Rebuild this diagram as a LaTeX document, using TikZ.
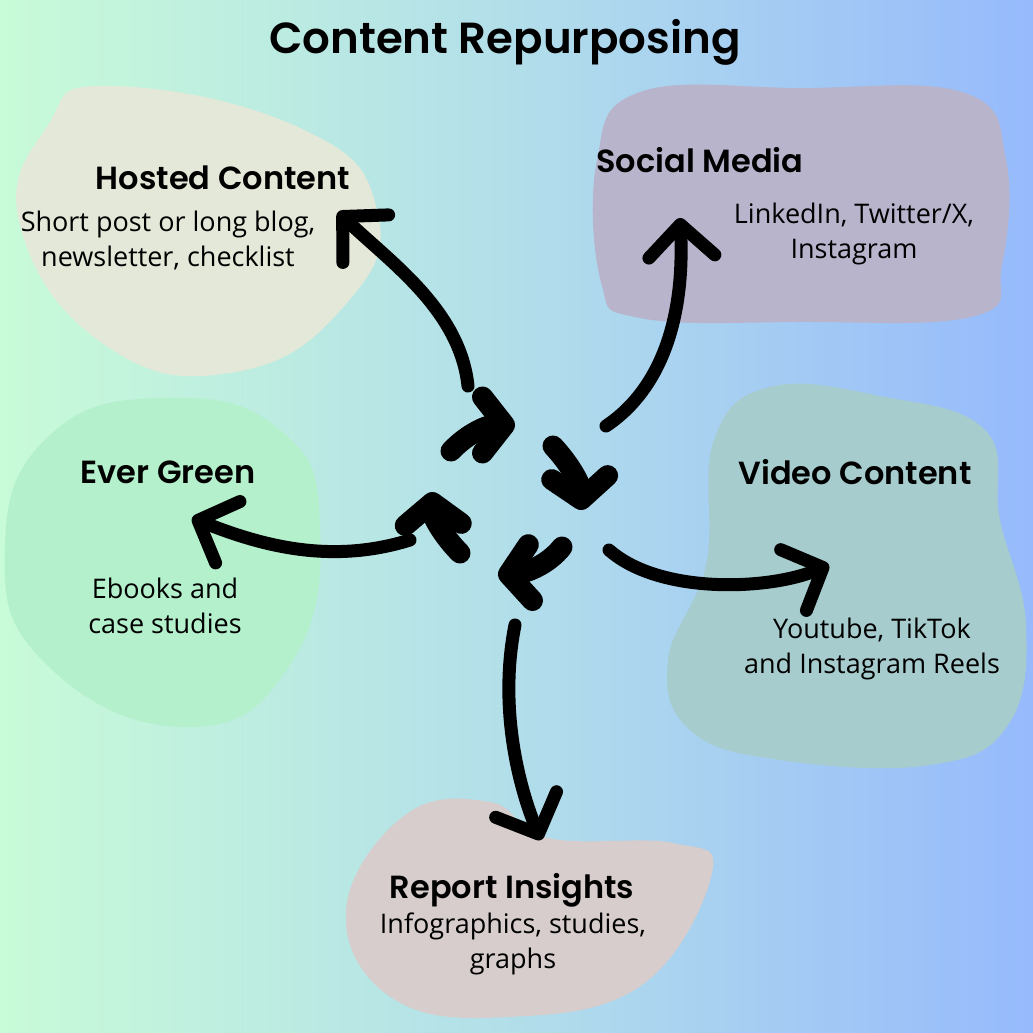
\documentclass[tikz,border=0pt]{standalone}
\usepackage{fontspec}
\setmainfont{Open Sans}
\newfontfamily\headfont{Poppins}[UprightFont={* SemiBold}]
\usetikzlibrary{arrows.meta}
\definecolor{bgLeft}{HTML}{C8FBD8}
\definecolor{bgMid}{HTML}{B2DEEA}
\definecolor{bgRight}{HTML}{96BAFC}
\definecolor{blobHosted}{HTML}{E4E8D8}
\definecolor{blobSocial}{HTML}{B8B4CC}
\definecolor{blobGreen}{HTML}{B3F0CB}
\definecolor{blobVideo}{HTML}{A6CCCD}
\definecolor{blobReport}{HTML}{D6CDCC}
\tikzset{
  heading/.style={font=\headfont\fontsize{32}{38}\selectfont},
  blurb/.style={font=\fontsize{27}{35}\selectfont, align=center},
  reach/.style={line width=13pt, line cap=round,
    -{Straight Barb[length=32pt, width=66pt, line width=13pt, round]}},
  spin/.style={line width=21pt, line cap=round,
    -{Straight Barb[length=22pt, width=56pt, line width=21pt, round]}}
}

\begin{document}
\begin{tikzpicture}[x=1pt, y=-1pt]
        \useasboundingbox (0,0) rectangle (1033,1033);
        \shade[left color=bgLeft, right color=bgRight, middle color=bgMid] (0,0) rectangle (1033,1033);
        \fill[blobHosted] plot[smooth cycle, tension=0.8] coordinates {(110,86) (300,128) (377,210) (345,305) (235,372) (105,345) (20,225) (48,125)};
        \fill[blobSocial] plot[smooth cycle, tension=0.7] coordinates {(640,92) (800,88) (965,93) (1006,160) (1002,265) (975,316) (800,322) (640,318) (601,282) (597,160)};
        \fill[blobGreen] plot[smooth cycle, tension=0.8] coordinates {(167,398) (280,430) (320,525) (290,665) (185,727) (45,663) (5,548) (50,435)};
        \fill[blobVideo] plot[smooth cycle, tension=0.7] coordinates {(770,387) (880,396) (985,430) (1000,520) (1026,625) (1008,725) (930,765) (780,760) (690,730) (668,660) (706,565) (714,440)};
        \fill[blobReport] plot[smooth cycle, tension=0.7] coordinates {(405,815) (490,802) (548,838) (673,843) (712,873) (642,985) (508,1017) (392,998) (346,910)};
        \node[font=\headfont\fontsize{43.5}{50}\selectfont] (title) at (505,42) {Content Repurposing};
        \node[heading] (hostedHead) at (223,178) {Hosted Content};
        \node[blurb] (hostedText) at (168,240) {Short post or long blog,\\newsletter, checklist};
        \node[heading] (socialHead) at (700,160) {Social Media};
        \node[blurb] (socialText) at (854,234) {LinkedIn, Twitter/X,\\Instagram};
        \node[heading] (greenHead) at (168,472) {Ever Green};
        \node[blurb] (greenText) at (165,606) {Ebooks and\\case studies};
        \node[heading] (videoHead) at (855,472) {Video Content};
        \node[blurb] (videoText) at (872,649) {Youtube, TikTok\\and Instagram Reels};
        \node[heading] (reportHead) at (512,890) {Report Insights};
        \node[blurb] (reportText) at (513,944) {Infographics, studies,\\graphs};
        \coordinate (hostedTail) at (468,386);
        \coordinate (hostedTip) at (338,212);
        \coordinate (socialTail) at (606,426);
        \coordinate (socialTip) at (680,218);
        \coordinate (greenTail) at (410,540);
        \coordinate (greenTip) at (192,518);
        \coordinate (videoTail) at (609,550);
        \coordinate (videoTip) at (829,565);
        \coordinate (reportTail) at (515,625);
        \coordinate (reportTip) at (541,840);
        \draw[reach] (hostedTail) .. controls (460,310) and (390,262) .. (hostedTip);
        \draw[reach] (socialTail) .. controls (660,390) and (685,320) .. (socialTip);
        \draw[reach] (greenTail) .. controls (330,565) and (260,545) .. (greenTip);
        \draw[reach] (videoTail) .. controls (660,595) and (770,590) .. (videoTip);
        \draw[reach] (reportTail) .. controls (498,710) and (520,790) .. (reportTip);
        \coordinate (spinA) at (451,451);
        \coordinate (spinB) at (553,446);
        \coordinate (spinC) at (562,547);
        \coordinate (spinD) at (460,553);
        \draw[spin] (spinA) .. controls (468,433) and (488,425) .. (515,425);
        \draw[spin] (spinB) .. controls (568,462) and (580,482) .. (582,510);
        \draw[spin] (spinC) .. controls (548,565) and (525,573) .. (498,575);
        \draw[spin] (spinD) .. controls (444,537) and (433,518) .. (432,492);
      \end{tikzpicture}
\end{document}
